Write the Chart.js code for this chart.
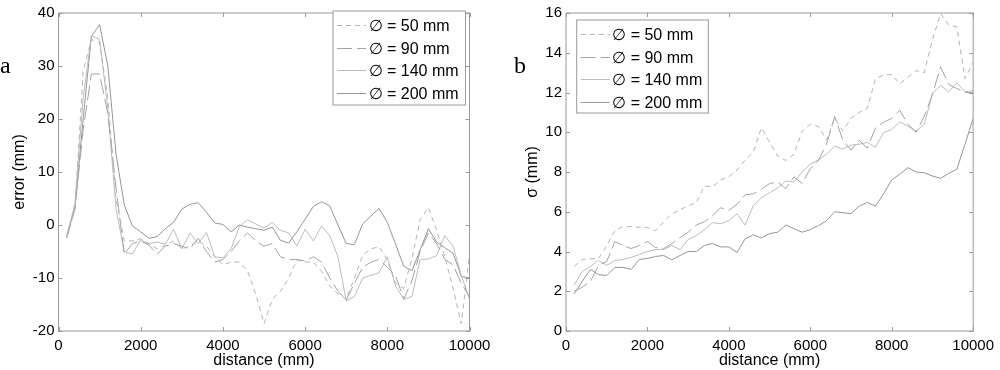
<!DOCTYPE html>
<html>
<head>
<meta charset="utf-8">
<script src="https://cdn.jsdelivr.net/npm/chart.js@4.4.1/dist/chart.umd.min.js"></script>
<style>
    body { margin: 0; background: #fff; }
    #wrap { position: relative; width: 1000px; height: 370px; }
    .panel { position: absolute; top: 0; width: 500px; height: 370px; }
    .letter { position: absolute; font-family: 'Liberation Serif', 'DejaVu Serif', serif; font-size: 24px; color: #000; line-height: 1; }
</style>
</head>
<body>
<div id="wrap">
    <div class="panel" style="left:0"><canvas id="errorChart" width="500" height="370"></canvas></div>
    <div class="panel" style="left:500px"><canvas id="sigmaChart" width="500" height="370"></canvas></div>
    <div class="letter" style="left:0px;top:53px">a</div>
    <div class="letter" style="left:514px;top:53px">b</div>
</div>
<script>
// Datos (distancia en mm)
const distance = [200, 400, 600, 800, 1000, 1200, 1400, 1600, 1800, 2000,
    2200, 2400, 2600, 2800, 3000, 3200, 3400, 3600, 3800, 4000,
    4200, 4400, 4600, 4800, 5000, 5200, 5400, 5600, 5800, 6000,
    6200, 6400, 6600, 6800, 7000, 7200, 7400, 7600, 7800, 8000,
    8200, 8400, 8600, 8800, 9000, 9200, 9400, 9600, 9800, 10000];

const seriesNames = ['∅ = 50 mm', '∅ = 90 mm', '∅ = 140 mm', '∅ = 200 mm'];

// a: error (mm)
const error50 = [-2.3, 3, 29, 35, 34.5, 24, 5, -3, -3, -2.6,
    -3.5, -4.5, -3.8, -3, -4.5, -4, -3, -4, -6, -7.5,
    -7, -7, -8.7, -13, -18.6, -14, -12.5, -10, -6.6, -7,
    -7, -8.7, -11.5, -13, -14, -10, -5.7, -4.5, -4.1, -6.6,
    -10.9, -12, -6.3, 1, 3.3, -1, -6, -12, -18.6, -5.6];
const error90 = [-2.5, 3, 18, 28.5, 28.5, 21, 7, -5.5, -3.5, -3,
    -3.8, -5.5, -4, -3.5, -4, -4.5, -2.5, -5, -7, -6.5,
    -5, -3, -1.5, -3, -4, -3.5, -6, -6.5, -6.5, -6.8,
    -6, -7, -10, -12.5, -14.2, -11, -8, -7, -6.5, -8,
    -9.5, -14, -10.5, -5, -1.5, -3.5, -6.5, -7.5, -11, -13.5];
const error140 = [-2, 4, 24, 35.7, 35, 22, 3, -5, -5.5, -2.8,
    -3.6, -3.2, -3.6, -0.8, -4.5, -1.5, -3.5, -1.4, -6, -6.2,
    -4.5, -0.3, 1, 0.2, -0.6, 0.5, -1, -1.5, -4, -0.8,
    -3, -0.2, -2, -6, -14.3, -13.5, -10, -9.5, -9, -6,
    -11.5, -14, -13.5, -6.5, -6.4, -5.8, -2, -4, -9.5, -14];
const error200 = [-2.3, 3.3, 20, 35.6, 37.8, 30, 13.4, 3.8, -0.2, -1.3,
    -2.5, -2.2, -0.7, 0.5, 3.0, 3.9, 4.2, 2.4, 0.4, 0.1,
    -1.3, 0, -0.4, -0.7, -1.0, -0.4, -2.9, -3.4, -1.3, 1.1,
    3.5, 4.4, 3.6, 0, -3.5, -3.7, 0.2, 1.7, 3.1, 0.5,
    -3.6, -7.8, -8.6, -4.7, -0.7, -3.2, -4.3, -5.3, -9.7, -10];

// b: sigma (mm)
const sigma50 = [3.25, 3.6, 3.63, 3.66, 4.3, 5.05, 5.25, 5.25, 5.22, 5.2,
    5.05, 5.5, 5.9, 6.1, 6.3, 6.45, 7.3, 7.25, 7.6, 7.76,
    8.1, 8.6, 9.0, 10.23, 9.5, 8.8, 8.58, 8.9, 10.05, 10.4,
    10.3, 9.6, 10.7, 10.06, 10.7, 11.0, 11.2, 12.69, 12.88, 12.9,
    12.44, 12.77, 13.1, 13.0, 14.66, 15.97, 15.4, 15.3, 12.7, 13.5];
const sigma90 = [2.0, 2.2, 2.5, 3.3, 3.5, 4.5, 4.3, 4.15, 4.3, 4.5,
    4.2, 4.15, 4.4, 4.7, 4.97, 5.33, 5.5, 5.8, 6.2, 6.07,
    6.37, 6.86, 6.9, 7.13, 7.42, 7.5, 7.16, 7.76, 7.42, 8.17,
    8.58, 9.4, 10.8, 9.6, 9.1, 9.6, 9.2, 10.2, 10.5, 10.7,
    11.1, 10.4, 10.0, 10.8, 11.9, 13.3, 12.4, 12.2, 12.0, 12.0];
const sigma140 = [2.3, 3.0, 3.25, 3.55, 3.3, 3.55, 3.6, 3.7, 3.85, 4.0,
    4.1, 4.1, 4.3, 4.1, 4.6, 4.8, 5.1, 5.45, 5.4, 5.55,
    5.9, 5.33, 6.3, 6.7, 6.95, 7.2, 7.55, 7.5, 8.0, 8.4,
    8.6, 8.9, 9.3, 9.15, 9.35, 9.4, 9.49, 9.24, 9.98, 10.14,
    10.52, 10.3, 10.06, 10.4, 11.95, 12.36, 12.03, 12.49, 12.03, 12.1];
const sigma200 = [1.86, 2.5, 3.1, 2.84, 2.79, 3.2, 3.2, 3.1, 3.6, 3.65,
    3.75, 3.8, 3.58, 3.8, 4.0, 4.0, 4.3, 4.4, 4.23, 4.23,
    3.95, 4.64, 4.84, 4.68, 4.9, 4.97, 5.33, 5.15, 4.97, 5.1,
    5.3, 5.55, 6.0, 5.95, 5.91, 6.28, 6.47, 6.28, 6.9, 7.6,
    7.9, 8.22, 8.0, 7.96, 7.8, 7.68, 7.93, 8.14, 9.4, 10.7];

// Estilos de línea por diámetro
const lineStyles = [
    { color: '#b4b4b4', dash: [5, 4] },
    { color: '#a4a4a4', dash: [15, 5] },
    { color: '#bdbdbd', dash: [] },
    { color: '#969696', dash: [] }
];
const frameColor = '#9a9a9a';

Chart.defaults.font.family = "'Liberation Sans', Arial, sans-serif";
Chart.defaults.color = '#000';

// Marco con marcas hacia dentro (estilo Matlab)
const frameBox = {
    id: 'frameBox',
    afterDraw(chart) {
        const { ctx, chartArea: a, scales } = chart;
        const tl = 4;
        ctx.save();
        ctx.strokeStyle = frameColor;
        ctx.lineWidth = 1;
        ctx.setLineDash([]);
        ctx.strokeRect(a.left, a.top, a.right - a.left, a.bottom - a.top);
        ctx.beginPath();
        scales.x.ticks.forEach(t => {
            const px = Math.round(scales.x.getPixelForValue(t.value)) + 0.5;
            ctx.moveTo(px, a.bottom); ctx.lineTo(px, a.bottom - tl);
            ctx.moveTo(px, a.top); ctx.lineTo(px, a.top + tl);
        });
        scales.y.ticks.forEach(t => {
            const py = Math.round(scales.y.getPixelForValue(t.value)) + 0.5;
            ctx.moveTo(a.left, py); ctx.lineTo(a.left + tl, py);
            ctx.moveTo(a.right, py); ctx.lineTo(a.right - tl, py);
        });
        ctx.stroke();
        ctx.restore();
    }
};

// Leyenda con recuadro dentro del área del gráfico
const boxLegend = {
    id: 'boxLegend',
    afterDraw(chart, args, opts) {
        const ctx = chart.ctx;
        ctx.save();
        ctx.fillStyle = '#fff';
        ctx.fillRect(opts.left, opts.top, opts.width, opts.height);
        ctx.strokeStyle = frameColor;
        ctx.lineWidth = 1;
        ctx.strokeRect(opts.left, opts.top, opts.width, opts.height);
        ctx.font = "16px 'Liberation Sans', Arial, sans-serif";
        ctx.textBaseline = 'middle';
        chart.data.datasets.forEach((ds, i) => {
            const y = Math.round(opts.firstRow + i * opts.rowGap) + 0.5;
            ctx.strokeStyle = ds.borderColor;
            ctx.setLineDash(ds.borderDash);
            ctx.beginPath();
            ctx.moveTo(opts.left + opts.sampleFrom, y);
            ctx.lineTo(opts.left + opts.sampleTo, y);
            ctx.stroke();
            ctx.setLineDash([]);
            ctx.fillStyle = '#000';
            ctx.fillText(ds.label, opts.left + opts.textAt, y + 1);
        });
        ctx.restore();
    }
};

function makeDatasets(values) {
    return values.map((vals, i) => ({
        label: seriesNames[i],
        data: vals,
        borderColor: lineStyles[i].color,
        borderDash: lineStyles[i].dash,
        borderWidth: 1,
        pointRadius: 0,
        tension: 0,
        fill: false
    }));
}

function makeChart(id, values, yMin, yMax, yStep, yTitle, box) {
    return new Chart(document.getElementById(id), {
        type: 'line',
        data: { labels: distance, datasets: makeDatasets(values) },
        options: {
            responsive: false,
            animation: false,
            layout: { padding: { top: 6, right: box.padRight, left: 0, bottom: 0 } },
            plugins: {
                legend: { display: false },
                tooltip: { enabled: false },
                boxLegend: box.legend
            },
            scales: {
                x: {
                    type: 'linear',
                    min: 0,
                    max: 10000,
                    grid: { display: false, drawTicks: false },
                    border: { display: false },
                    ticks: {
                        stepSize: 2000,
                        padding: 6,
                        maxRotation: 0,
                        autoSkip: false,
                        font: { size: 15 },
                        callback: v => String(v)
                    },
                    title: {
                        display: true,
                        text: 'distance (mm)',
                        font: { size: 16 },
                        padding: { top: 0, bottom: 0 }
                    },
                    afterFit: s => { s.height = 39; }
                },
                y: {
                    min: yMin,
                    max: yMax,
                    grid: { display: false, drawTicks: false },
                    border: { display: false },
                    ticks: {
                        stepSize: yStep,
                        padding: 4,
                        font: { size: 15 },
                        callback: v => String(v)
                    },
                    title: {
                        display: true,
                        text: yTitle,
                        font: { size: 16 },
                        padding: { top: box.titlePad, bottom: 0 }
                    },
                    afterFit: s => { s.width = box.yWidth; }
                }
            }
        },
        plugins: [frameBox, boxLegend]
    });
}

makeChart('errorChart', [error50, error90, error140, error200], -20, 40, 10, 'error (mm)', {
    padRight: 30.5,
    yWidth: 58.5,
    titlePad: 10.4,
    legend: { left: 333, top: 11, width: 132.5, height: 94, firstRow: 25, rowGap: 22.7, sampleFrom: 4, sampleTo: 33, textAt: 35.5 }
});

makeChart('sigmaChart', [sigma50, sigma90, sigma140, sigma200], 0, 16, 2, 'σ (mm)', {
    padRight: 23,
    yWidth: 66,
    titlePad: 23.4,
    legend: { left: 576.7 - 500, top: 20, width: 131.6, height: 93, firstRow: 34, rowGap: 22.7, sampleFrom: 4, sampleTo: 33, textAt: 35.5 }
});
</script>
</body>
</html>
